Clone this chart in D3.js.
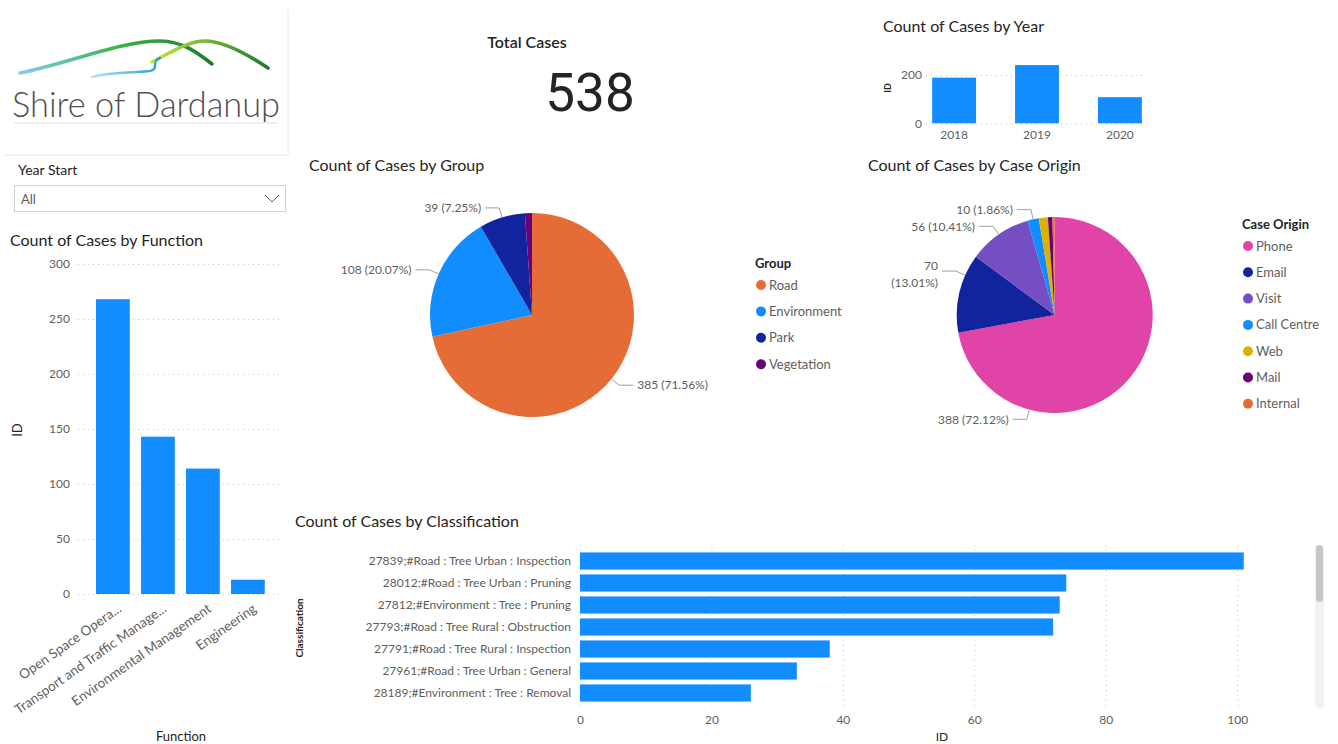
<!DOCTYPE html>
<html>
<head>
<meta charset="utf-8">
<script src="https://cdn.jsdelivr.net/npm/d3@7/dist/d3.min.js"></script>
<style>
  body { margin: 0; background: #fff; }
  svg { display: block; font-family: Lato, "Noto Sans", sans-serif; }
  .title { font-size: 16px; fill: #252423; }
  .tick text { fill: #605E5C; font-size: 12px; font-family: Lato, "Noto Sans", sans-serif; }
  .grid line { stroke: #c8c6c4; stroke-dasharray: 1,4; }
  .lbl { fill: #605E5C; font-size: 12px; }
  .leader { stroke: #a19f9d; fill: none; }
  .legtitle { font-size: 13px; font-weight: bold; fill: #252423; }
  .legitem { font-size: 13px; fill: #605E5C; }
  .axtitle { font-size: 13px; fill: #252423; }
</style>
</head>
<body>
<svg id="page" width="1338" height="744"></svg>
<script>
// ---- data ----
var totalCases = 538;

var functionNames = ["Open Space Opera...", "Transport and Traffic Manage...", "Environmental Management", "Engineering"];
var functionCounts = [268, 143, 114, 13];

var years = ["2018", "2019", "2020"];
var yearCounts = [189, 241, 108];

var groupNames = ["Road", "Environment", "Park", "Vegetation"];
var groupCounts = [385, 108, 39, 6];
var groupColors = ["#E66C37", "#118DFF", "#12239E", "#6B007B"];

var originNames = ["Phone", "Email", "Visit", "Call Centre", "Web", "Mail", "Internal"];
var originCounts = [388, 70, 56, 10, 8, 4, 2];
var originColors = ["#E044A7", "#12239E", "#744EC2", "#118DFF", "#D9B300", "#6B007B", "#E66C37"];

var classNames = [
  "27839;#Road : Tree Urban : Inspection",
  "28012;#Road : Tree Urban : Pruning",
  "27812;#Environment : Tree : Pruning",
  "27793;#Road : Tree Rural : Obstruction",
  "27791;#Road : Tree Rural : Inspection",
  "27961;#Road : Tree Urban : General",
  "28189;#Environment : Tree : Removal"
];
var classCounts = [101, 74, 73, 72, 38, 33, 26];

var barColor = "#118DFF";

var svg = d3.select("#page");

// ---- logo panel ----
var logo = svg.append("g");
logo.append("line").attr("x1", 288).attr("x2", 288).attr("y1", 10).attr("y2", 155).style("stroke", "#e6e6e6");
logo.append("line").attr("x1", 5).attr("x2", 288).attr("y1", 155).attr("y2", 155).style("stroke", "#e6e6e6");

var defs = svg.append("defs");
var g1 = defs.append("linearGradient").attr("id", "sw1").attr("x1", "0").attr("x2", "1");
g1.append("stop").attr("offset", "0").attr("stop-color", "#7fd0ee");
g1.append("stop").attr("offset", "0.5").attr("stop-color", "#3cb54a");
g1.append("stop").attr("offset", "1").attr("stop-color", "#1e7a2e");
var g2 = defs.append("linearGradient").attr("id", "sw2").attr("x1", "0").attr("x2", "1");
g2.append("stop").attr("offset", "0").attr("stop-color", "#c6e63c");
g2.append("stop").attr("offset", "1").attr("stop-color", "#1e7a2e");
var g3 = defs.append("linearGradient").attr("id", "sw3").attr("x1", "0").attr("x2", "1");
g3.append("stop").attr("offset", "0").attr("stop-color", "#b5e0f5");
g3.append("stop").attr("offset", "1").attr("stop-color", "#2b9ed8");

logo.append("path").attr("d", "M20,73 C70,63 120,41 160,41 C182,41 198,53 212,64")
  .style("fill", "none").style("stroke", "url(#sw1)").style("stroke-width", 3.5).style("stroke-linecap", "round");
logo.append("path").attr("d", "M152,62 C172,52 188,41 205,41 C225,41 250,56 268,68")
  .style("fill", "none").style("stroke", "url(#sw2)").style("stroke-width", 3.5).style("stroke-linecap", "round");
logo.append("path").attr("d", "M92,77 C112,71 135,73 150,71 C160,69 150,62 160,58")
  .style("fill", "none").style("stroke", "url(#sw3)").style("stroke-width", 2.5).style("stroke-linecap", "round");
logo.append("text").attr("x", 12).attr("y", 117).attr("textLength", 268).attr("lengthAdjust", "spacingAndGlyphs")
  .style("font-size", "35px").style("font-weight", 300).style("fill", "#505154").text("Shire of Dardanup");
logo.append("line").attr("x1", 14).attr("x2", 278).attr("y1", 123).attr("y2", 123)
  .style("stroke", "#eeeeee").style("stroke-width", 2);

// ---- year slicer ----
svg.append("text").attr("x", 18).attr("y", 175).style("font-size", "14px").style("fill", "#252423").text("Year Start");
svg.append("rect").attr("x", 14.5).attr("y", 185.5).attr("width", 271).attr("height", 26)
  .style("fill", "#fff").style("stroke", "#d2d0ce");
svg.append("text").attr("x", 21).attr("y", 204).style("font-size", "13px").style("fill", "#605E5C").text("All");
svg.append("polyline").attr("points", "265,195 272,202 279,195").style("fill", "none").style("stroke", "#605E5C");

// ---- card ----
svg.append("text").attr("x", 527).attr("y", 48).attr("text-anchor", "middle").attr("class", "title")
  .style("font-weight", 600).text("Total Cases");
svg.append("text").attr("x", 590).attr("y", 111).attr("text-anchor", "middle")
  .style("font-family", "Roboto, Lato, sans-serif").style("font-size", "53px").style("fill", "#252423")
  .text(totalCases);

// ---- generic helpers ----
function grid(g, scale, ticks, x1, x2) {
  g.append("g").attr("class", "grid").selectAll("line").data(ticks).enter().append("line")
    .attr("x1", x1).attr("x2", x2).attr("y1", function(d) { return scale(d) + 0.5; }).attr("y2", function(d) { return scale(d) + 0.5; });
}

// ---- count by function ----
(function() {
  var g = svg.append("g");
  g.append("text").attr("x", 10).attr("y", 246).attr("class", "title").text("Count of Cases by Function");
  var y = d3.scaleLinear().domain([0, 300]).range([594, 264]);
  var x = d3.scaleBand().domain(functionNames).range([90.4, 270.4]).paddingInner(0.25).paddingOuter(0.125);
  grid(g, y, y.ticks(6), 78, 282);
  var ax = g.append("g").attr("transform", "translate(70,0)").call(d3.axisLeft(y).ticks(6).tickSize(0).tickPadding(0));
  ax.select(".domain").remove();
  g.selectAll("rect.bar").data(functionCounts).enter().append("rect").attr("class", "bar")
    .attr("x", function(d, i) { return x(functionNames[i]); })
    .attr("width", x.bandwidth())
    .attr("y", function(d) { return y(d); })
    .attr("height", function(d) { return y(0) - y(d); })
    .style("fill", barColor);
  g.selectAll("text.xl").data(functionNames).enter().append("text").attr("class", "lbl xl")
    .attr("text-anchor", "end")
    .attr("transform", function(d) { return "translate(" + (x(d) + x.bandwidth() / 2 + 4) + ",603) rotate(-35)"; })
    .attr("dy", "0.7em")
    .style("font-size", "13.5px")
    .text(function(d) { return d; });
  g.append("text").attr("transform", "translate(22,430) rotate(-90)").attr("text-anchor", "middle")
    .attr("class", "axtitle").text("ID");
  g.append("text").attr("x", 181).attr("y", 741).attr("text-anchor", "middle").attr("class", "axtitle").text("Function");
})();

// ---- count by year ----
(function() {
  var g = svg.append("g");
  g.append("text").attr("x", 883).attr("y", 32).attr("class", "title").text("Count of Cases by Year");
  var y = d3.scaleLinear().domain([0, 250]).range([123.3, 62.9]);
  var x = d3.scaleBand().domain(years).range([928, 1146]).paddingInner(0.47).paddingOuter(0.05);
  grid(g, y, y.ticks(1), 926, 1146);
  var ax = g.append("g").attr("transform", "translate(922,0)").call(d3.axisLeft(y).ticks(1).tickSize(0).tickPadding(0));
  ax.select(".domain").remove();
  g.selectAll("rect.bar").data(yearCounts).enter().append("rect").attr("class", "bar")
    .attr("x", function(d, i) { return x(years[i]); })
    .attr("width", x.bandwidth())
    .attr("y", function(d) { return y(d); })
    .attr("height", function(d) { return y(0) - y(d); })
    .style("fill", barColor);
  var bx = g.append("g").attr("transform", "translate(0,124)").call(d3.axisBottom(x).tickSize(0).tickPadding(6));
  bx.select(".domain").remove();
  g.append("text").attr("transform", "translate(891,88) rotate(-90)").attr("text-anchor", "middle")
    .style("font-size", "9px").style("font-weight", "bold").style("fill", "#252423").text("ID");
})();

// ---- pies ----
function drawPie(opt) {
  var g = svg.append("g");
  g.append("text").attr("x", opt.titleX).attr("y", opt.titleY).attr("class", "title").text(opt.title);
  var total = d3.sum(opt.values);
  var pie = d3.pie().sort(null).value(function(d) { return d; });
  var arc = d3.arc().innerRadius(0).outerRadius(opt.r);
  var arcs = pie(opt.values);
  var pg = g.append("g").attr("transform", "translate(" + opt.cx + "," + opt.cy + ")");
  pg.selectAll("path").data(arcs).enter().append("path").attr("d", arc)
    .style("fill", function(d, i) { return opt.colors[i]; });
  arcs.forEach(function(a, i) {
    var v = opt.values[i], pct = v / total * 100;
    if (pct < 1.5) return;
    var ang = opt.labelAngles[opt.names[i]] !== undefined ? opt.labelAngles[opt.names[i]] * Math.PI / 180 : (a.startAngle + a.endAngle) / 2;
    var s = Math.sin(ang), c = -Math.cos(ang);
    var p0 = [s * opt.r, c * opt.r], p1 = [s * (opt.r + 10), c * (opt.r + 10)];
    var dir = s < 0 ? -1 : 1;
    var p2 = [p1[0] + dir * 14, p1[1]];
    pg.append("polyline").attr("class", "leader").attr("points", [p0, p1, p2].map(function(p) { return p.join(","); }).join(" "));
    var t = pg.append("text").attr("class", "lbl").attr("text-anchor", dir < 0 ? "end" : "start")
      .attr("x", p2[0] + dir * 4).attr("y", p2[1]);
    var txt = v + " (" + pct.toFixed(2) + "%)";
    if (opt.wrap.indexOf(opt.names[i]) >= 0) {
      t.append("tspan").attr("x", p2[0] + dir * 4).attr("dy", "-0.1em").text(v);
      t.append("tspan").attr("x", p2[0] + dir * 4).attr("dy", "1.45em").text("(" + pct.toFixed(2) + "%)");
    } else {
      t.attr("dy", "0.35em").text(txt);
    }
  });
  var lg = g.append("g").attr("transform", "translate(" + opt.legX + "," + opt.legY + ")");
  lg.append("text").attr("class", "legtitle").attr("x", 0).attr("y", 0).attr("dy", "0.35em").text(opt.legTitle);
  var items = lg.selectAll("g.it").data(opt.names).enter().append("g").attr("class", "it")
    .attr("transform", function(d, i) { return "translate(0," + (22 + i * opt.legStep) + ")"; });
  items.append("circle").attr("cx", 6).attr("cy", 0).attr("r", 5).style("fill", function(d, i) { return opt.colors[i]; });
  items.append("text").attr("class", "legitem").attr("x", 14).attr("dy", "0.35em").text(function(d) { return d; });
}

drawPie({
  title: "Count of Cases by Group", titleX: 309, titleY: 171,
  names: groupNames, values: groupCounts, colors: groupColors,
  cx: 532, cy: 315, r: 102,
  labelAngles: {}, wrap: [],
  legTitle: "Group", legX: 755, legY: 263, legStep: 26.4
});

drawPie({
  title: "Count of Cases by Case Origin", titleX: 868, titleY: 171,
  names: originNames, values: originCounts, colors: originColors,
  cx: 1054.7, cy: 315, r: 98,
  labelAngles: { "Phone": 195, "Email": 294 }, wrap: ["Email"],
  legTitle: "Case Origin", legX: 1242, legY: 224, legStep: 26.3
});

// ---- count by classification ----
(function() {
  var g = svg.append("g");
  g.append("text").attr("x", 295).attr("y", 527).attr("class", "title").text("Count of Cases by Classification");
  var x = d3.scaleLinear().domain([0, 105]).range([580, 1270]);
  var y = d3.scaleBand().domain(classNames).range([550, 704]).paddingInner(0.22).paddingOuter(0.11);
  var xt = d3.range(0, 101, 20);
  g.append("g").attr("class", "grid").selectAll("line").data(xt).enter().append("line")
    .attr("x1", function(d) { return x(d) + 0.5; }).attr("x2", function(d) { return x(d) + 0.5; })
    .attr("y1", 545).attr("y2", 707);
  g.selectAll("rect.bar").data(classCounts).enter().append("rect").attr("class", "bar")
    .attr("x", x(0))
    .attr("y", function(d, i) { return y(classNames[i]); })
    .attr("width", function(d) { return x(d) - x(0); })
    .attr("height", y.bandwidth())
    .style("fill", barColor);
  var ax = g.append("g").attr("transform", "translate(575,0)").call(d3.axisLeft(y).tickSize(0).tickPadding(4));
  ax.select(".domain").remove();
  var bx = g.append("g").attr("transform", "translate(0,713)").call(d3.axisBottom(x).tickValues(xt).tickSize(0).tickPadding(2));
  bx.select(".domain").remove();
  g.append("text").attr("transform", "translate(303,628) rotate(-90)").attr("text-anchor", "middle")
    .style("font-size", "10px").style("font-weight", "bold").style("fill", "#252423").text("Classification");
  g.append("text").attr("x", 942).attr("y", 741).attr("text-anchor", "middle").style("font-size", "12px")
    .style("fill", "#252423").text("ID");
  // scrollbar
  g.append("rect").attr("x", 1315).attr("y", 545).attr("width", 9).attr("height", 163).attr("rx", 4).style("fill", "#f3f2f1");
  g.append("rect").attr("x", 1316).attr("y", 545).attr("width", 7).attr("height", 57).attr("rx", 3.5).style("fill", "#c8c6c4");
})();
</script>
</body>
</html>
